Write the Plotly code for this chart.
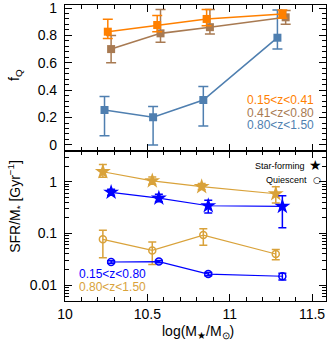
import plotly.graph_objects as go
from plotly.subplots import make_subplots

# ---- Top panel: quiescent fraction ----
x_a = [10.26, 10.56, 10.86, 11.32]
fq_a = [0.827, 0.876, 0.92, 0.956]
fq_a_up = [0.09, 0.07, 0.07, 0.03]
fq_a_dn = [0.05, 0.05, 0.05, 0.03]

x_b = [10.28, 10.58, 10.88, 11.34]
fq_b = [0.70, 0.815, 0.86, 0.932]
fq_b_up = [0.10, 0.175, 0.13, 0.05]
fq_b_dn = [0.10, 0.065, 0.05, 0.05]

x_c = [10.24, 10.535, 10.84, 11.29]
fq_c = [0.255, 0.202, 0.328, 0.783]
fq_c_up = [0.098, 0.078, 0.098, 0.202]
fq_c_dn = [0.189, 0.202, 0.189, 0.083]

# ---- Bottom panel: sSFR ----
x_sf_hi = [10.23, 10.53, 10.83, 11.28]
ssfr_sf_hi = [1.58, 1.05, 0.81, 0.59]
ssfr_sf_hi_up = [0.6, 0.2, 0.12, 0.22]
ssfr_sf_hi_dn = [0.35, 0.15, 0.1, 0.2]

x_sf_lo = [10.28, 10.57, 10.87, 11.32]
ssfr_sf_lo = [0.63, 0.485, 0.345, 0.335]
ssfr_sf_lo_up = [0.09, 0.09, 0.095, 0.205]
ssfr_sf_lo_dn = [0.08, 0.07, 0.095, 0.206]

x_q_hi = [10.23, 10.53, 10.84, 11.28]
ssfr_q_hi = [0.077, 0.047, 0.093, 0.040]
ssfr_q_hi_up = [0.038, 0.021, 0.03, 0.009]
ssfr_q_hi_dn = [0.043, 0.022, 0.034, 0.009]

x_q_lo = [10.28, 10.57, 10.87, 11.32]
ssfr_q_lo = [0.028, 0.0285, 0.0163, 0.0148]
ssfr_q_lo_up = [0.0015, 0.0015, 0.0012, 0.0022]
ssfr_q_lo_dn = [0.0015, 0.0015, 0.0012, 0.0023]

ORANGE = "#FF8000"
BROWN = "#A87A52"
STEEL = "#4F7FB0"
GOLD = "#D9A23A"
BLUE = "#0000FF"

fig = make_subplots(rows=2, cols=1, shared_xaxes=True, vertical_spacing=0)

def add(x, y, up, dn, color, symbol, size, row, filled=True, lw=1.6, cap=5):
    fig.add_trace(go.Scatter(
        x=x, y=y, mode="lines+markers",
        line=dict(color=color, width=lw),
        marker=dict(symbol=symbol if filled else symbol + "-open", size=size, color=color,
                    line=dict(color=color, width=1.5 if not filled else 0)),
        error_y=dict(type="data", symmetric=False, array=up, arrayminus=dn,
                     color=color, thickness=1.5, width=cap),
        showlegend=False), row=row, col=1)

add(x_c, fq_c, fq_c_up, fq_c_dn, STEEL, "square", 8, 1)
add(x_b, fq_b, fq_b_up, fq_b_dn, BROWN, "square", 8, 1)
add(x_a, fq_a, fq_a_up, fq_a_dn, ORANGE, "square", 8, 1)

add(x_q_hi, ssfr_q_hi, ssfr_q_hi_up, ssfr_q_hi_dn, GOLD, "circle", 7, 2, filled=False, lw=1.2, cap=4)
add(x_q_lo, ssfr_q_lo, ssfr_q_lo_up, ssfr_q_lo_dn, BLUE, "circle", 7, 2, filled=False, lw=1.2, cap=4)
add(x_sf_hi, ssfr_sf_hi, ssfr_sf_hi_up, ssfr_sf_hi_dn, GOLD, "star", 12, 2, lw=1.2, cap=4)
add(x_sf_lo, ssfr_sf_lo, ssfr_sf_lo_up, ssfr_sf_lo_dn, BLUE, "star", 12, 2, lw=1.2, cap=4)

FONT = "Liberation Sans, Arial, sans-serif"
TF = dict(family=FONT, size=14, color="black")
axis_common = dict(showline=True, linecolor="black", linewidth=1.2, mirror="allticks",
                   ticks="inside", ticklen=7, tickwidth=1, tickcolor="black",
                   showgrid=False, zeroline=False, automargin=False,
                   ticklabeloverflow="allow", tickfont=TF)

fig.update_xaxes(range=[10.0, 11.585], dtick=0.5, tick0=10,
                 minor=dict(ticks="inside", ticklen=4, dtick=0.1, tickcolor="black"),
                 **axis_common)
fig.update_xaxes(showticklabels=False, row=1, col=1)

fig.update_yaxes(range=[-0.044, 1.022], dtick=0.2, tick0=0, domain=[0.507, 1.0],
                 ticklabelstandoff=4,
                 minor=dict(ticks="inside", ticklen=4, dtick=0.04, tickcolor="black"),
                 row=1, col=1, **axis_common)
fig.update_yaxes(type="log", range=[-2.31, 0.602], domain=[0.0, 0.507],
                 tickvals=[0.01, 0.1, 1], ticktext=["0.01", "0.1", "1"],
                 ticklabelstandoff=4,
                 minor=dict(ticks="inside", ticklen=4, tickcolor="black",
                            tickvals=[v * 10 ** e for e in (-3, -2, -1, 0) for v in range(2, 10)]),
                 row=2, col=1, **axis_common)

# axis titles
fig.add_annotation(text="log(M<sub>★</sub>/M<sub>⊙</sub>)", xref="paper", yref="paper", x=0.51, y=0,
                   xanchor="center", yanchor="top", yshift=-20, showarrow=False, font=TF)
fig.add_annotation(text="f<sub>Q</sub>", xref="paper", yref="paper", x=0, y=0.7635,
                   xanchor="center", yanchor="middle", xshift=-50, textangle=-90, showarrow=False, font=TF)
fig.add_annotation(text="SFR/M<sub>*</sub> [Gyr<sup>−1</sup>]", xref="paper", yref="paper", x=0, y=0.318,
                   xanchor="center", yanchor="middle", xshift=-50, textangle=-90, showarrow=False, font=TF)

def span(t, c):
    return f"<span style='color:{c};font-size:12px'>{t}</span>"

fig.add_annotation(text="<br>".join([span("0.15<z<0.41", ORANGE), span("0.41<z<0.80", BROWN),
                                     span("0.80<z<1.50", STEEL)]),
                   xref="x domain", yref="y domain", x=0.958, y=0.265, align="right",
                   xanchor="right", yanchor="middle", showarrow=False, borderpad=0,
                   font=dict(family=FONT, size=9.7, color="black"))
fig.add_annotation(text="<br>".join([span("0.15<z<0.80", BLUE), span("0.80<z<1.50", GOLD)]),
                   xref="x2 domain", yref="y2 domain", x=0.05, y=0.138, align="left",
                   xanchor="left", yanchor="middle", showarrow=False, borderpad=0,
                   font=dict(family=FONT, size=9.7, color="black"))
fig.add_annotation(text="Star-forming", xref="x2 domain", yref="y2 domain", x=0.922, y=0.90,
                   xanchor="right", yanchor="middle", showarrow=False, borderpad=0,
                   font=dict(family=FONT, size=9, color="black"))
fig.add_annotation(text="★", xref="x2 domain", yref="y2 domain", x=0.958, y=0.905,
                   xanchor="center", yanchor="middle", showarrow=False, borderpad=0,
                   font=dict(family="DejaVu Sans", size=14, color="black"))
fig.add_annotation(text="Quiescent", xref="x2 domain", yref="y2 domain", x=0.931, y=0.807,
                   xanchor="right", yanchor="middle", showarrow=False, borderpad=0,
                   font=dict(family=FONT, size=9, color="black"))
fig.add_annotation(text="○", xref="x2 domain", yref="y2 domain", x=0.966, y=0.807,
                   xanchor="center", yanchor="middle", showarrow=False, borderpad=0,
                   font=dict(family="DejaVu Sans", size=9, color="black"))

fig.update_layout(template="none", width=331, height=343, margin=dict(l=65, r=5, t=5, b=42),
                  paper_bgcolor="white", plot_bgcolor="white",
                  font=dict(family=FONT, color="black"))

fig.write_html("out.html", config={"displayModeBar": False},
               post_script="document.body.style.margin='0px';document.body.style.padding='0px';")
